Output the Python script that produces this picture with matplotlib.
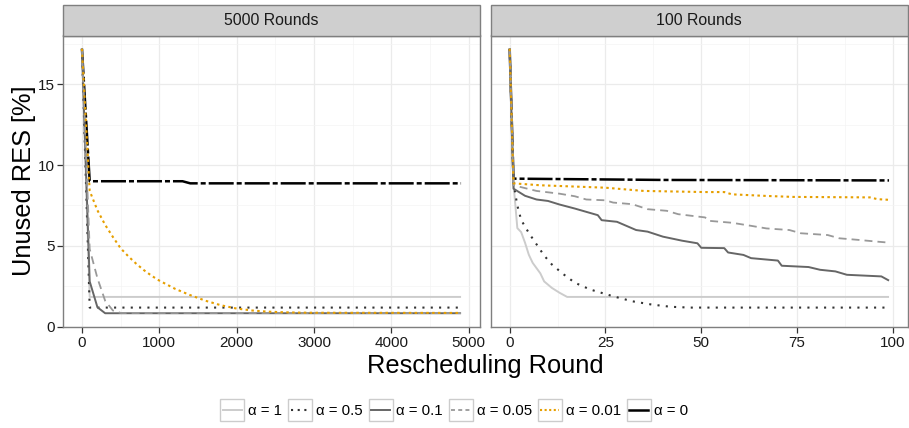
import matplotlib
matplotlib.use("Agg")
import matplotlib.pyplot as plt
from matplotlib.patches import Rectangle
from matplotlib.lines import Line2D
from matplotlib.legend_handler import HandlerBase
from matplotlib.ticker import MultipleLocator

plt.rcParams['font.family'] = ['Liberation Sans', 'DejaVu Sans']

# ---------------- data ----------------
panel_titles = ["5000 Rounds", "100 Rounds"]
labels = ["α = 1", "α = 0.5", "α = 0.1", "α = 0.05", "α = 0.01", "α = 0"]

# Panel 1: 5000 rounds
p1_a1_x = [0, 100, 4900]
p1_a1_y = [17.2, 1.84, 1.84]
p1_a05_x = [0, 100, 4900]
p1_a05_y = [17.2, 1.18, 1.18]
p1_a01_x = [0, 100, 200, 300, 4900]
p1_a01_y = [17.2, 2.8, 1.2, 0.83, 0.83]
p1_a005_x = [0, 100, 200, 300, 400, 500, 4900]
p1_a005_y = [17.2, 4.8, 3.0, 1.6, 1.0, 0.85, 0.84]
p1_a001_x = [0, 100, 200, 300, 400, 500, 600, 700, 800, 900, 1000, 1200, 1400, 1600,
             1800, 2000, 2200, 2400, 2600, 2800, 3000, 4900]
p1_a001_y = [17.2, 8.4, 7.2, 6.3, 5.55, 4.85, 4.35, 3.9, 3.5, 3.15, 2.85, 2.35, 1.95, 1.6,
             1.32, 1.12, 1.0, 0.93, 0.89, 0.87, 0.86, 0.85]
p1_a0_x = [0, 100, 1300, 1400, 4900]
p1_a0_y = [17.2, 9.0, 9.0, 8.87, 8.87]

# Panel 2: 100 rounds
p2_a1_x = [0, 1, 2, 3, 4, 5, 6, 8, 9, 11, 13, 15, 99]
p2_a1_y = [17.2, 8.85, 6.1, 5.85, 5.2, 4.45, 3.95, 3.3, 2.8, 2.4, 2.1, 1.84, 1.84]
p2_a05_x = [0, 1, 2, 3, 5, 7, 9, 11, 14, 17, 21, 27, 32, 37, 42, 47, 99]
p2_a05_y = [17.2, 8.87, 7.5, 6.6, 5.8, 5.1, 4.4, 3.85, 3.25, 2.72, 2.3, 1.88, 1.57, 1.37, 1.23, 1.18, 1.18]
p2_a01_x = [0, 1, 4, 7, 10, 13, 17, 23, 24, 28, 33, 36, 40, 45, 49, 50, 56, 57, 61, 63, 70, 71,
            78, 81, 85, 88, 97, 99]
p2_a01_y = [17.2, 8.54, 8.1, 7.87, 7.78, 7.56, 7.31, 6.9, 6.59, 6.49, 5.98, 5.88, 5.57, 5.32,
            5.16, 4.88, 4.86, 4.59, 4.44, 4.24, 4.09, 3.77, 3.69, 3.52, 3.42, 3.21, 3.11, 2.85]
p2_a005_x = [0, 1, 7, 13, 17, 20, 25, 27, 32, 36, 41, 44, 51, 52, 58, 63, 67, 73, 76, 83, 86,
             91, 96, 99]
p2_a005_y = [17.2, 8.75, 8.4, 8.23, 8.07, 7.87, 7.82, 7.68, 7.58, 7.27, 7.17, 6.96, 6.76, 6.55,
             6.43, 6.24, 6.08, 5.98, 5.78, 5.67, 5.47, 5.37, 5.26, 5.2]
p2_a001_x = [0, 1, 8, 25, 35, 51, 56, 58, 67, 74, 94, 96, 99]
p2_a001_y = [17.2, 8.87, 8.75, 8.6, 8.4, 8.33, 8.33, 8.19, 8.09, 8.03, 8.0, 7.89, 7.85]
p2_a0_x = [0, 1, 40, 99]
p2_a0_y = [17.2, 9.16, 9.08, 9.05]

panel_data = [
    [(p1_a1_x, p1_a1_y), (p1_a05_x, p1_a05_y), (p1_a01_x, p1_a01_y),
     (p1_a005_x, p1_a005_y), (p1_a001_x, p1_a001_y), (p1_a0_x, p1_a0_y)],
    [(p2_a1_x, p2_a1_y), (p2_a05_x, p2_a05_y), (p2_a01_x, p2_a01_y),
     (p2_a005_x, p2_a005_y), (p2_a001_x, p2_a001_y), (p2_a0_x, p2_a0_y)],
]

# ---------------- styles ----------------
styles = [
    dict(color="#CCCCCC", lw=1.4, ls="-"),
    dict(color="#333333", lw=1.5, ls=(0, (1, 3))),
    dict(color="#666666", lw=1.4, ls="-"),
    dict(color="#999999", lw=1.3, ls=(0, (4.4, 2.8))),
    dict(color="#E69F00", lw=1.5, ls=(0, (1.2, 1.6))),
    dict(color="#000000", lw=1.8, ls=(0, (10, 1.2, 2, 1.2))),
]
legend_ls = ["-", (0, (1, 2.2)), "-", (0, (2.2, 1.8)), (0, (1, 1.2)), "-"]
draw_order = [5, 0, 1, 2, 3, 4]

W, H = 909, 428
fig = plt.figure(figsize=(W / 100, H / 100), dpi=100)

ax_boxes = [(63, 35.5, 480, 327.3), (490.7, 35.5, 908, 327.3)]
xlims = [(-245, 5145), (-4.95, 103.95)]
xticks = [[0, 1000, 2000, 3000, 4000, 5000], [0, 25, 50, 75, 100]]
xminor = [500, 12.5]
ylim = (-0.04, 18.02)

border = "#7F7F7F"
axes = []
for i, (l, t, r, b) in enumerate(ax_boxes):
    ax = fig.add_axes([l / W, 1 - b / H, (r - l) / W, (b - t) / H])
    axes.append(ax)
    for j in draw_order:
        xs, ys = panel_data[i][j]
        st = styles[j]
        ax.plot(xs, ys, color=st["color"], lw=st["lw"], linestyle=st["ls"],
                dash_capstyle="butt", solid_capstyle="butt", zorder=3)
    ax.set_xlim(*xlims[i])
    ax.set_ylim(*ylim)
    ax.set_xticks(xticks[i])
    ax.xaxis.set_minor_locator(MultipleLocator(xminor[i]))
    ax.set_yticks([0, 5, 10, 15])
    ax.yaxis.set_minor_locator(MultipleLocator(2.5))
    ax.grid(which="major", color="#EBEBEB", lw=0.9, zorder=0)
    ax.grid(which="minor", color="#F4F4F4", lw=0.5, zorder=0)
    ax.set_axisbelow(True)
    for sp in ax.spines.values():
        sp.set_color(border)
        sp.set_linewidth(1.0)
    ax.tick_params(which="major", direction="out", length=4, width=0.9, color="#333333",
                   labelsize=11, labelcolor="#1A1A1A", pad=2)
    ax.tick_params(which="minor", length=0)
    if i == 1:
        ax.tick_params(axis="y", which="both", left=False, labelleft=False)
    # strip
    sh = 30.5 / (b - t)
    ax.add_patch(Rectangle((0, 1), 1, sh, transform=ax.transAxes, facecolor="#CFCFCF",
                           edgecolor=border, lw=1.0, clip_on=False, zorder=5))
    ax.text(0.5, 1 + sh / 2, panel_titles[i], transform=ax.transAxes, ha="center", va="center",
            fontsize=11.4, color="#1A1A1A", zorder=6)

fig.text(485.5 / W, 1 - 366 / H, "Rescheduling Round", ha="center", va="center", fontsize=18.3)
fig.text(24 / W, 1 - 181 / H, "Unused RES [%]", ha="center", va="center", rotation=90, fontsize=18.3)


class BoxedLine(HandlerBase):
    def create_artists(self, legend, orig_handle, xdescent, ydescent, width, height, fontsize, trans):
        rect = Rectangle((-xdescent, -ydescent), width, height, facecolor="white",
                         edgecolor="#CCCCCC", lw=1.0, transform=trans)
        y = -ydescent + height / 2
        line = Line2D([-xdescent + width * 0.1, -xdescent + width * 0.9], [y, y])
        line.update_from(orig_handle)
        line.set_dash_capstyle("butt")
        line.set_transform(trans)
        return [rect, line]


handles = [Line2D([], [], color=styles[j]["color"], lw=styles[j]["lw"], linestyle=legend_ls[j])
           for j in range(6)]
fig.legend(handles, labels, loc="center", bbox_to_anchor=(0.5, 1 - 410 / H), ncol=6,
           frameon=False, fontsize=10.8, handlelength=1.6, handleheight=1.85,
           handletextpad=0.25, columnspacing=0.4, borderpad=0,
           handler_map={Line2D: BoxedLine()})

fig.savefig("out.png", dpi=100)
